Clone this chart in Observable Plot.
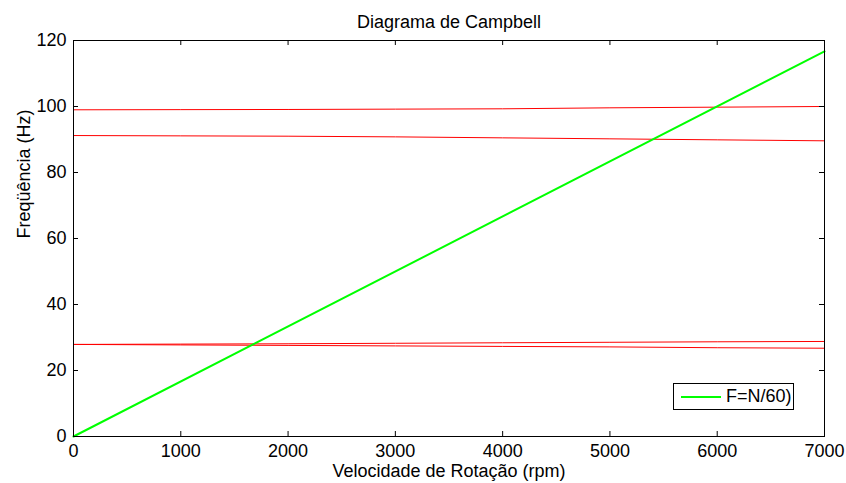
<!DOCTYPE html>
<html>
<head>
<meta charset="utf-8">
<script src="https://cdn.jsdelivr.net/npm/d3@7"></script>
<script src="https://cdn.jsdelivr.net/npm/@observablehq/plot@0.6"></script>
<style>
  html, body { margin: 0; padding: 0; background: #fff; }
  #wrap { position: relative; width: 846px; height: 483px; font-family: "Liberation Sans", Arial, sans-serif; }
  #legend { position: absolute; left: 673px; top: 383px; width: 119px; height: 25px; border: 1px solid #000; background: #fff; box-sizing: content-box; }
  #legend .swatch { position: absolute; left: 7px; top: 12px; width: 40px; height: 2px; background: #00ff00; }
  #legend .lbl { position: absolute; left: 52px; top: 2px; font-size: 18px; line-height: 21px; color: #000; white-space: nowrap; }
</style>
</head>
<body>
<div id="wrap"></div>
<script>
// ---- data ----
const title = "Diagrama de Campbell";
const xLabel = "Velocidade de Rotação (rpm)";
const yLabel = "Freqüência (Hz)";
const legendLabel = "F=N/60)";

const xTicks = [0, 1000, 2000, 3000, 4000, 5000, 6000, 7000];
const yTicks = [0, 20, 40, 60, 80, 100, 120];

const rpm = [0, 1000, 2000, 3000, 4000, 5000, 6000, 7000];
const mode1 = [99.0, 99.05, 99.1, 99.2, 99.3, 99.6, 99.8, 100.0];
const mode2 = [91.2, 91.1, 91.0, 90.8, 90.5, 90.2, 89.9, 89.6];
const mode3 = [27.9, 28.0, 28.1, 28.25, 28.4, 28.55, 28.7, 28.8];
const mode4 = [27.9, 27.75, 27.6, 27.45, 27.3, 27.15, 26.9, 26.75];

const excRpm = [0, 7000];
const excFreq = [0, 116.7];

// ---- build tables ----
const modes = [mode1, mode2, mode3, mode4];
const redRows = modes.flatMap((m, i) => rpm.map((r, j) => ({mode: i, rpm: r, f: m[j]})));
const greenRows = excRpm.map((r, j) => ({rpm: r, f: excFreq[j]}));

const W = 846, H = 483, mL = 73, mR = 22, mT = 40, mB = 47;
const innerW = W - mL - mR, innerH = H - mT - mB;
const tick = 5;

const chart = Plot.plot({
  width: W, height: H,
  marginLeft: mL, marginRight: mR, marginTop: mT, marginBottom: mB,
  style: {fontFamily: '"Liberation Sans", Arial, sans-serif', fontSize: "18px", color: "#000", background: "#fff", overflow: "visible"},
  x: {domain: [0, 7000]},
  y: {domain: [0, 120]},
  marks: [
    Plot.line(redRows, {x: "rpm", y: "f", z: "mode", stroke: "#ff0000", strokeWidth: 1}),
    Plot.line(greenRows, {x: "rpm", y: "f", stroke: "#00ff00", strokeWidth: 2}),
    // inward ticks on all four sides
    Plot.tickX(xTicks, {x: d => d, stroke: "#000", strokeWidth: 1, insetTop: innerH - tick}),
    Plot.tickX(xTicks, {x: d => d, stroke: "#000", strokeWidth: 1, insetBottom: innerH - tick}),
    Plot.tickY(yTicks, {y: d => d, stroke: "#000", strokeWidth: 1, insetRight: innerW - tick}),
    Plot.tickY(yTicks, {y: d => d, stroke: "#000", strokeWidth: 1, insetLeft: innerW - tick}),
    Plot.axisX(xTicks, {tickSize: 0, tickPadding: 8, label: null, fontSize: 18, tickFormat: "d"}),
    Plot.axisY(yTicks, {tickSize: 0, tickPadding: 7, label: null, fontSize: 18, tickFormat: "d"}),
    Plot.frame({stroke: "#000", strokeWidth: 1}),
    Plot.text([title], {frameAnchor: "top", dy: -13, lineAnchor: "bottom", fontSize: 18, fill: "#000"}),
    Plot.text([xLabel], {frameAnchor: "bottom", dy: 40, lineAnchor: "bottom", fontSize: 18, fill: "#000"}),
    Plot.text([yLabel], {frameAnchor: "left", dx: -44, rotate: -90, lineAnchor: "bottom", fontSize: 18, fill: "#000"})
  ]
});

const wrap = document.getElementById("wrap");
wrap.appendChild(chart);
const legend = document.createElement("div");
legend.id = "legend";
legend.innerHTML = '<div class="swatch"></div><div class="lbl"></div>';
legend.querySelector(".lbl").textContent = legendLabel;
wrap.appendChild(legend);
</script>
</body>
</html>
